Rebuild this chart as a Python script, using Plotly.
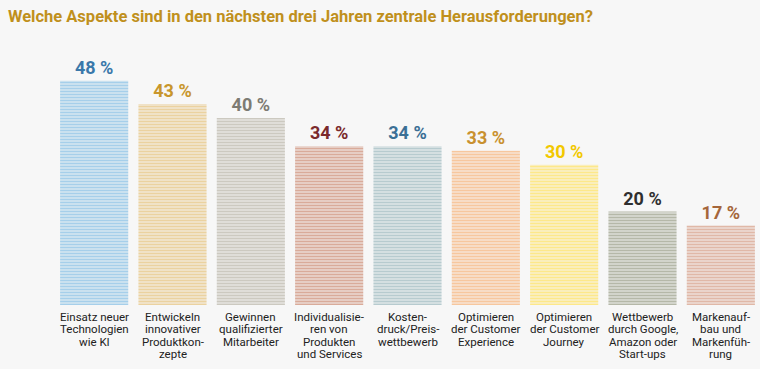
import plotly.graph_objects as go

categories = [
    ["Einsatz neuer", "Technologien", "wie KI"],
    ["Entwickeln", "innovativer", "Produktkon-", "zepte"],
    ["Gewinnen", "qualifizierter", "Mitarbeiter"],
    ["Individualisie-", "ren von", "Produkten", "und Services"],
    ["Kosten-", "druck/Preis-", "wettbewerb"],
    ["Optimieren", "der Customer", "Experience"],
    ["Optimieren", "der Customer", "Journey"],
    ["Wettbewerb", "durch Google,", "Amazon oder", "Start-ups"],
    ["Markenauf-", "bau und", "Markenfüh-", "rung"],
]
values = [48, 43, 40, 34, 34, 33, 30, 20, 17]
value_labels = ["48 %", "43 %", "40 %", "34 %", "34 %", "33 %", "30 %", "20 %", "17 %"]
bar_colors = ["#a6cfea", "#ebd2a0", "#ccc9c0", "#d9ab9a", "#b7cbcf",
              "#f7c79e", "#fde88a", "#b5b8a8", "#e0b8a7"]
stripe_colors = ["#c4e0f2", "#f3e2c2", "#dedbd4", "#e8c8bc", "#d2dfe2",
                 "#fbdcc2", "#fef2b8", "#d0d2c6", "#ecd0c4"]
label_colors = ["#3a78aa", "#c8962c", "#7d7b73", "#7b2a2c", "#3b6f95",
                "#c9912f", "#f2c800", "#2f2f2f", "#a5663a"]

FONT = "Roboto, Open Sans, sans-serif"
xs = list(range(len(categories)))

fig = go.Figure()
fig.add_trace(go.Bar(
    x=xs, y=values,
    marker=dict(color=bar_colors, line=dict(width=0),
                pattern=dict(shape="-", size=3, solidity=0.7,
                             fillmode="replace",
                             bgcolor=bar_colors,
                             fgcolor=stripe_colors, fgopacity=1)),
    text=value_labels, textposition="outside", cliponaxis=False,
    textfont=dict(family=FONT, size=18, color=label_colors, weight="bold"),
    hoverinfo="skip",
))

for x, lines in zip(xs, categories):
    for i, line in enumerate(lines):
        fig.add_annotation(x=x, y=0, xref="x", yref="paper", text=line,
                           showarrow=False, yanchor="middle",
                           yshift=-12 - 12.4 * i, align="center",
                           font=dict(family=FONT, size=11.5, color="#222222"))

fig.update_layout(
    width=760, height=369,
    paper_bgcolor="#f7f7f7", plot_bgcolor="#f7f7f7",
    margin=dict(l=55, r=0, t=48, b=64),
    bargap=0.13,
    showlegend=False,
    title=dict(text="<b>Welche Aspekte sind in den nächsten drei Jahren zentrale Herausforderungen?</b>",
               x=0.0105, xanchor="left", y=1 - 16 / 369, yanchor="middle",
               font=dict(family=FONT, size=16.5, color="#c0901c")),
    xaxis=dict(range=[-0.5, 8.5], showticklabels=False, showgrid=False,
               zeroline=False, showline=False),
    yaxis=dict(range=[0, 55], showticklabels=False, showgrid=False,
               zeroline=False, showline=False),
)

fig.write_html("out.html", config={"displayModeBar": False},
               post_script="document.body.style.margin='0';"
                           "document.body.style.background='#f7f7f7';")
